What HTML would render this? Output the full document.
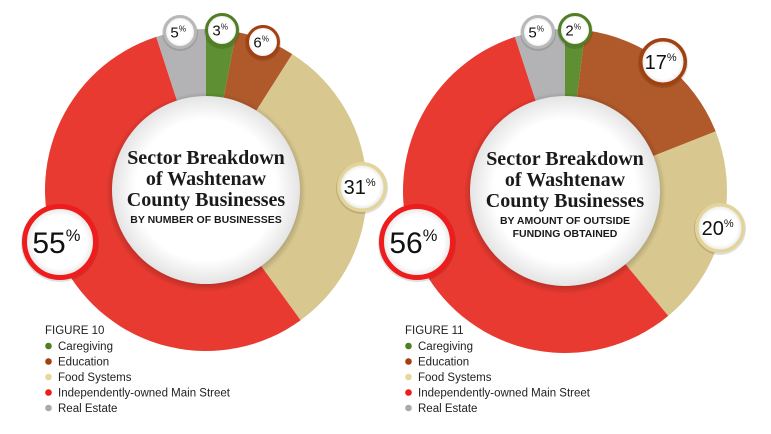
<!DOCTYPE html>
<html><head><meta charset="utf-8"><style>
html,body{margin:0;padding:0;background:#fff;}
svg{display:block;}
.t{font-family:"Liberation Serif",serif;font-weight:bold;font-size:20px;fill:#1a1a1a;}
.s{font-family:"Liberation Sans",sans-serif;font-weight:bold;font-size:10.5px;fill:#1a1a1a;}
.l{font-family:"Liberation Sans",sans-serif;font-size:11.5px;fill:#222;}
.b{font-family:"Liberation Sans",sans-serif;fill:#111;}
</style></head><body>
<svg id="svg" width="771" height="434" viewBox="0 0 771 434" xmlns="http://www.w3.org/2000/svg">
<defs>
<radialGradient id="sh" cx="0.5" cy="0.5" r="0.5">
<stop offset="0.85" stop-color="#000" stop-opacity="0.35"/>
<stop offset="1" stop-color="#000" stop-opacity="0"/>
</radialGradient>
<radialGradient id="wg" cx="0.5" cy="0.5" r="0.5">
<stop offset="0.75" stop-color="#fff"/>
<stop offset="1" stop-color="#e4e4e4"/>
</radialGradient>
</defs>
<g id="c1"></g>
<g id="c2"></g>
</svg>
<script>
var NS="http://www.w3.org/2000/svg";
function el(p,t,a,txt){var e=document.createElementNS(NS,t);for(var k in a)e.setAttribute(k,a[k]);if(txt!==undefined)e.textContent=txt;p.appendChild(e);return e;}
var col={g:"#5f8f33",e:"#b0592a",f:"#d8c88f",r:"#e83a30",x:"#b3b3b5"};
var bcol={g:"#4f7f22",e:"#a2400f",f:"#e3d59a",r:"#ee1c1c",x:"#b8b8b8"};
function chart(g,cx,cy,R,ri,sl,bub,title,sub){
  var a=0;
  sl.forEach(function(s){
    var a0=a*Math.PI/180, a1=(a+s[1])*Math.PI/180; a+=s[1];
    var x0=cx+R*Math.sin(a0),y0=cy-R*Math.cos(a0),x1=cx+R*Math.sin(a1),y1=cy-R*Math.cos(a1);
    var lg=s[1]>180?1:0;
    el(g,"path",{d:"M"+cx+","+cy+"L"+x0+","+y0+"A"+R+","+R+" 0 "+lg+" 1 "+x1+","+y1+"Z",fill:col[s[0]]});
  });
  el(g,"circle",{cx:cx,cy:cy+2,r:ri+6,fill:"url(#sh)"});
  el(g,"circle",{cx:cx,cy:cy,r:ri,fill:"url(#wg)"});
  var ty=cy-26;
  title.forEach(function(t,i){el(g,"text",{x:cx,y:ty+i*21,"text-anchor":"middle","class":"t"},t);});
  sub.forEach(function(t,i){el(g,"text",{x:cx,y:ty+3*21-4+i*13,"text-anchor":"middle","class":"s"},t);});
  bub.forEach(function(b){
    el(g,"circle",{cx:b[1],cy:b[2]+1,r:b[3]+1,fill:"#000",opacity:0.12});
    el(g,"circle",{cx:b[1],cy:b[2],r:b[3]-b[5]/2,fill:"url(#wg)",stroke:bcol[b[0]],"stroke-width":b[5]});
    var fs=b[6];
    var t=el(g,"text",{x:b[1]-fs*0.12,y:b[2]+fs*0.36,"text-anchor":"middle","class":"b","font-size":fs});
    t.appendChild(document.createTextNode(b[4]));
    el(t,"tspan",{"font-size":fs*0.55,dy:-fs*0.4},"%");
  });
}
chart(document.getElementById("c1"),206,190,161,94,
 [["g",10.8],["e",21.6],["f",111.6],["r",198],["x",18]],
 [["x",180,32,17,"5",3,15],["g",222,30,17,"3",3,15],["e",263,42,17,"6",3,15],["f",362,187,25,"31",3.5,20],["r",60,242,38,"55",5,30]],
 ["Sector Breakdown","of Washtenaw","County Businesses"],["BY NUMBER OF BUSINESSES"]);
chart(document.getElementById("c2"),565,191,162,95,
 [["g",7.2],["e",61.2],["f",72],["r",201.6],["x",18]],
 [["x",538,32,17,"5",3,15],["g",575,30,17,"2",3,15],["e",663,62,24,"17",3.5,20],["f",720,228,25,"20",3.5,20],["r",417,242,38,"56",5,30]],
 ["Sector Breakdown","of Washtenaw","County Businesses"],["BY AMOUNT OF OUTSIDE","FUNDING OBTAINED"]);
function legend(x,fig){
  var s=document.getElementById("svg");
  el(s,"text",{x:x,y:334,"class":"l"},fig);
  var items=[["g","Caregiving"],["e","Education"],["f","Food Systems"],["r","Independently-owned Main Street"],["x","Real Estate"]];
  var dc={g:"#4f7f22",e:"#a2400f",f:"#e6d89a",r:"#ee1c1c",x:"#aaa"};
  items.forEach(function(it,i){
    var y=350+i*15.5;
    el(s,"circle",{cx:x+3.5,cy:y-4,r:3.3,fill:dc[it[0]]});
    el(s,"text",{x:x+13,y:y,"class":"l"},it[1]);
  });
}
legend(45,"FIGURE 10");
legend(405,"FIGURE 11");
</script>
</body></html>
